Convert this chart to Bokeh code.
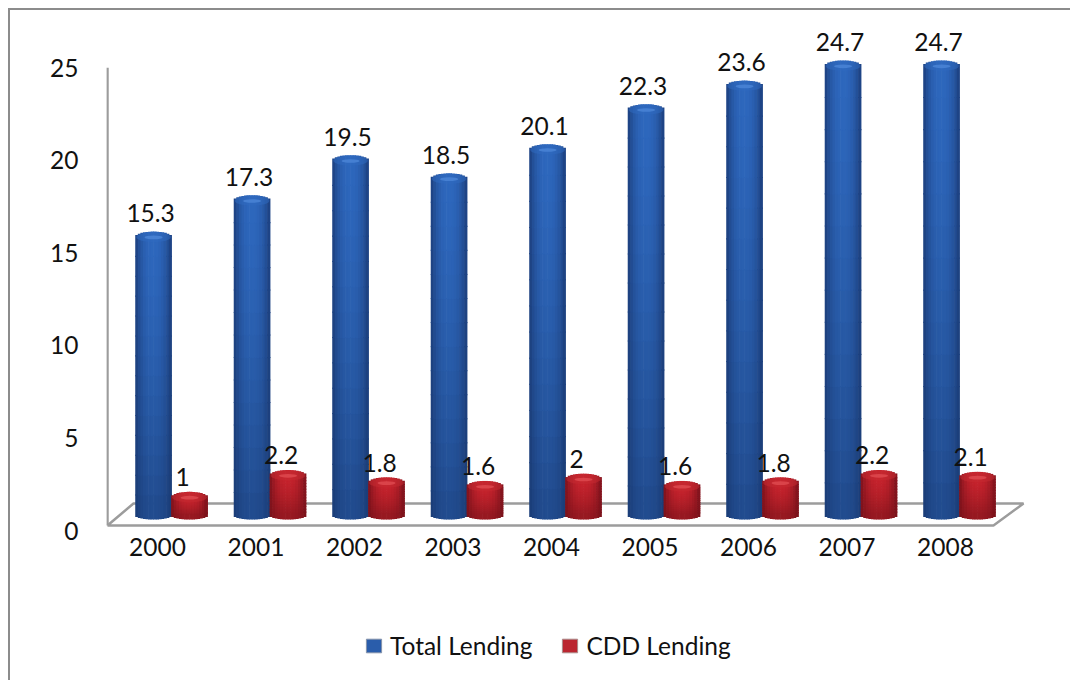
from bokeh.plotting import figure
from bokeh.embed import file_html
from bokeh.resources import INLINE
from bokeh.layouts import column
from bokeh.models import Range1d, LinearAxis, FixedTicker, Legend, LegendItem, ColumnDataSource
from bokeh.core.properties import value

years = ["2000", "2001", "2002", "2003", "2004", "2005", "2006", "2007", "2008"]
total_lending = [15.3, 17.3, 19.5, 18.5, 20.1, 22.3, 23.6, 24.7, 24.7]
cdd_lending = [1, 2.2, 1.8, 1.6, 2, 1.6, 1.8, 2.2, 2.1]
y_ticks = [0, 5, 10, 15, 20, 25]

FONT = "Lato"
TXT = "#111111"
GRID = "#9c9c9c"
FS = "24.5px"

p = figure(width=1060, height=562, output_backend="svg", toolbar_location=None,
           x_range=Range1d(-0.518, 9.269), y_range=Range1d(0, 28.08),
           min_border_left=96, min_border_right=0, min_border_top=0, min_border_bottom=42,
           x_axis_type=None, y_axis_type=None, outline_line_color=None,
           background_fill_color="white", border_fill_color="white")
p.grid.visible = False
p.extra_y_ranges = {"bars": Range1d(-0.824, 27.747)}

xax = LinearAxis(ticker=FixedTicker(ticks=list(range(len(years)))),
                 major_label_overrides={i: y for i, y in enumerate(years)})
yax = LinearAxis(ticker=FixedTicker(ticks=y_ticks))
for ax, standoff in ((xax, 1), (yax, 22)):
    ax.axis_line_color = None
    ax.major_tick_line_color = None
    ax.minor_tick_line_color = None
    ax.major_label_text_font = FONT
    ax.major_label_text_font_size = FS
    ax.major_label_text_color = TXT
    ax.major_label_standoff = standoff
p.add_layout(xax, "below")
p.add_layout(yax, "left")

# 3D floor and wall of the chart box
n = len(years)
p.line([-0.508, -0.508], [-0.55, 24.6], y_range_name="bars", line_color=GRID, line_width=2.5)
p.line([-0.508, 8.487, 8.792, -0.244, -0.508], [-0.55, -0.55, 0.66, 0.66, -0.55],
       y_range_name="bars", line_color=GRID, line_width=2.5)

BAR_W = 0.366


def mix(a, b, k):
    return tuple(x + (y - x) * k for x, y in zip(a, b))


def hexc(c):
    return "#%02x%02x%02x" % tuple(int(v) for v in c)


def cylinder(vals, offset, edge, mid, low, cap, glow, label_dx, label_dy):
    xs = [i + offset for i in range(n)]
    strips, bands = 14, 14
    w = BAR_W / strips
    for s in range(strips):
        t = (s + 0.5) / strips * 2 - 1
        k = 1 - abs(t) ** 2.4
        dome = (1 - t * t) ** 0.5
        x_s = [x + t * BAR_W / 2 for x in xs]
        for b in range(bands):
            f0, f1 = b / bands, (b + 1) / bands
            col = hexc(mix(mix(edge, mid, k), low, 0.6 * (1 - f0) ** 1.5))
            bottom = [v * f0 if b else -0.22 * dome for v in vals]
            top = [v + 0.3 * dome if b == bands - 1 else v * f1 + 0.06 for v in vals]
            p.vbar(x=x_s, top=top, bottom=bottom, width=w * 1.25, y_range_name="bars",
                   fill_color=col, line_color=None)
    p.ellipse(xs, vals, width=BAR_W * 0.96, height=0.56, y_range_name="bars",
              fill_color=cap, fill_alpha=0.55, line_color=None)
    p.ellipse(xs, [v - 0.02 for v in vals], width=BAR_W * 0.5, height=0.2, y_range_name="bars",
              fill_color=glow, fill_alpha=0.6, line_color=None)
    src = ColumnDataSource(dict(x=xs, y=vals, t=["%g" % v for v in vals]))
    p.text("x", "y", text="t", source=src, y_range_name="bars", x_offset=label_dx,
           y_offset=label_dy, text_font=value(FONT), text_font_size=FS, text_color=TXT,
           text_align="center", text_baseline="bottom")


cylinder(total_lending, -0.04, (28, 62, 124), (46, 104, 190), (26, 58, 112),
         "#2f69bf", "#5590e0", -3, -15)
cylinder(cdd_lending, 0.325, (122, 18, 28), (200, 36, 46), (120, 18, 26),
         "#c42a32", "#e8565c", -7, -11)

# legend strip below the plot
p2 = figure(width=1060, height=108, output_backend="svg", toolbar_location=None,
            x_range=Range1d(0, 1), y_range=Range1d(0, 1), x_axis_type=None, y_axis_type=None,
            min_border=0, outline_line_color=None, background_fill_color="white",
            border_fill_color="white")
p2.grid.visible = False
# keys only: the marks lie outside the strip's range and show in the legend alone
key_blue = p2.vbar(x=[5], top=[5], bottom=[4], width=1, fill_color="#2a5dab", line_color="#8593ab")
key_red = p2.vbar(x=[5], top=[5], bottom=[4], width=1, fill_color="#bb2630", line_color="#ab8c8c")
legend = Legend(items=[LegendItem(label="Total Lending", renderers=[key_blue]),
                       LegendItem(label="CDD Lending", renderers=[key_red])],
                orientation="horizontal", location=(258, 20), border_line_color=None,
                background_fill_alpha=0, glyph_width=19, glyph_height=17, label_standoff=7,
                spacing=28, label_text_font=FONT, label_text_font_size=FS,
                label_text_color=TXT, padding=0, margin=0)
p2.add_layout(legend, "center")

page = column(p, p2, spacing=0, margin=(8, 0, 0, 8),
              styles={"border-top": "2px solid #8c8c8c", "border-left": "2px solid #8c8c8c"})

open("out.html", "w").write(file_html(page, INLINE))
